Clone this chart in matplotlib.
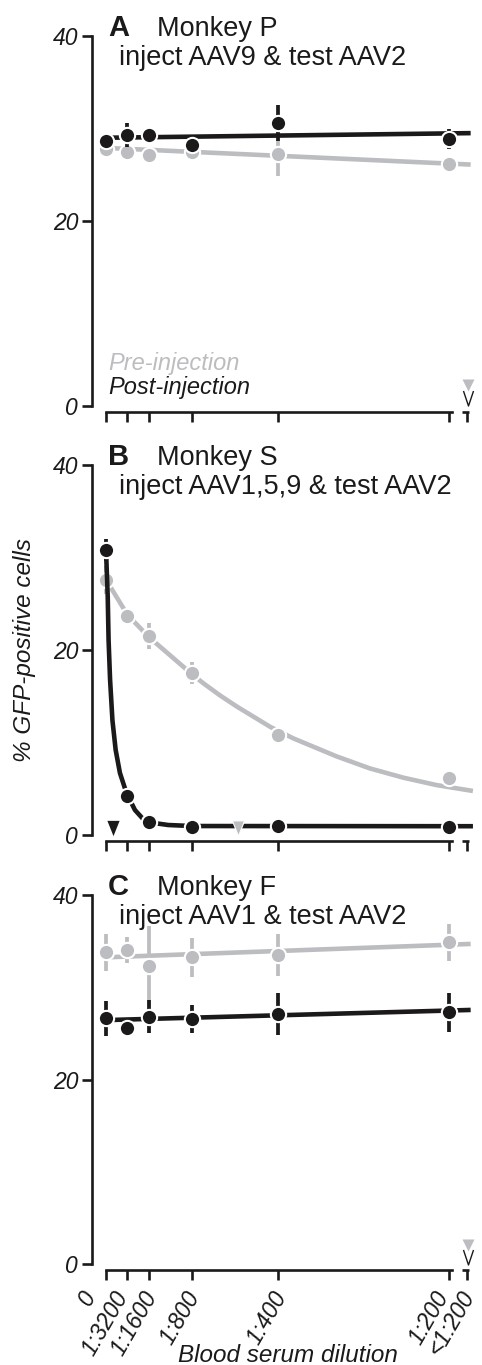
import matplotlib
matplotlib.use('Agg')
import matplotlib.pyplot as plt
from matplotlib.transforms import ScaledTranslation

plt.rcParams['font.family'] = ['Liberation Sans', 'DejaVu Sans']

# ---------------- data ----------------
DIL_X = [0, 1, 2, 4, 8, 16]          # serum concentration in units of 1:3200
TICK_X = [0, 1, 2, 4, 8, 16, 16.85]
TICK_LABELS = ['0', '1:3200', '1:1600', '1:800', '1:400', '1:200', '<1:200']
Y_TICKS = [0, 20, 40]

# Panel A - Monkey P
A_pre = [27.8, 27.5, 27.1, 27.5, 27.2, 26.2]
A_pre_err = [0.6, 0.5, 0.4, 0.5, 2.3, 0.5]
A_post = [28.7, 29.3, 29.25, 28.2, 30.6, 28.9]
A_post_err = [0.5, 1.3, 0.5, 1.0, 1.9, 1.1]
A_fit_x = [0, 17]
A_pre_fit = [27.9, 26.1]
A_post_fit = [29.0, 29.5]

# Panel B - Monkey S
B_pre = [27.6, 23.7, 21.5, 17.55, 10.8, 6.2]
B_pre_err = [1.5, 0.6, 1.4, 1.2, 0.3, 0.3]
B_post = [30.8, 4.2, 1.45, 0.85, 1.0, 0.9]
B_post_err = [1.2, 0.4, 0.2, 0.2, 0.2, 0.2]
B_pre_curve_x = [0, 1, 2, 4, 4.54, 5.31, 6.09, 6.87, 7.65, 8.73, 10.75, 12.3, 13.86, 15.4, 17.0]
B_pre_curve_y = [27.6, 23.8, 21.4, 17.4, 16.4, 15.1, 13.9, 12.8, 11.7, 10.45, 8.5, 7.2, 6.2, 5.4, 4.8]
B_post_curve_x = [0, 0.08, 0.12, 0.19, 0.30, 0.45, 0.65, 0.96, 1.35, 1.74, 2.13, 2.9, 4.0, 17.0]
B_post_curve_y = [30.8, 25.8, 21.1, 16.8, 12.4, 9.2, 6.7, 4.5, 2.7, 1.7, 1.33, 1.08, 0.97, 0.95]

# Panel C - Monkey F
C_pre = [33.8, 34.05, 32.3, 33.25, 33.5, 34.9]
C_pre_err = [2.0, 1.45, 4.3, 2.1, 2.25, 2.0]
C_post = [26.65, 25.55, 26.8, 26.55, 27.1, 27.3]
C_post_err = [1.9, 0.0, 1.8, 1.5, 2.25, 2.1]
C_fit_x = [0, 17]
C_pre_fit = [33.25, 34.7]
C_post_fit = [26.45, 27.55]

# Triangle markers
A_tri_pre = (16.87, 2.3)
A_tri_post = (16.87, 0.9)
B_tri_post = (0.34, 0.8)
B_tri_pre = (6.14, 0.8)
C_tri_pre = (16.87, 2.1)
C_tri_post = (16.87, 0.8)

TITLES = [('A', 'Monkey P', 'inject AAV9 & test AAV2'),
          ('B', 'Monkey S', 'inject AAV1,5,9 & test AAV2'),
          ('C', 'Monkey F', 'inject AAV1 & test AAV2')]

# ---------------- style ----------------
W, H, DPI = 482, 1365, 100
GRAY = '#bcbdc0'
BLACK = '#1b191a'
X0PX, PXU = 106.0, 21.45
XMIN, XMAX = -0.65, 17.2
PANEL_BOTTOM_PX = [406, 835, 1264.3]
PANEL_HEIGHT_PX = [370, 370, 369.3]
LABEL_NUDGE_PX = [-5, 5, 13, 13, 14, 4, 12]
MS, MEW = 11.0, 1.5
FIT_LW, ERR_LW = 3.3, 2.7
SPINE_LW = 1.9
TEXT_FS = 19.5
TICK_FS = 16.5
CHEVRON = [(-0.67, 1), (0, -1), (0.67, 1)]
TRI = [(-0.8, 1), (0.8, 1), (0, -1), (-0.8, 1)]

fig = plt.figure(figsize=(W / DPI, H / DPI), dpi=DPI)

def make_axes(i):
    left_px = X0PX + XMIN * PXU
    width_px = (XMAX - XMIN) * PXU
    b = PANEL_BOTTOM_PX[i]
    h = PANEL_HEIGHT_PX[i]
    ax = fig.add_axes([left_px / W, (H - b) / H, width_px / W, h / H])
    ax.set_xlim(XMIN, XMAX)
    ax.set_ylim(0, 40)
    for s in ['top', 'right']:
        ax.spines[s].set_visible(False)
    ax.spines['left'].set_bounds(0, 40)
    ax.spines['left'].set_linewidth(SPINE_LW)
    ax.spines['left'].set_color(BLACK)
    ax.spines['bottom'].set_position(('outward', 6 * 72 / DPI))
    ax.spines['bottom'].set_bounds(0, 16.13)
    ax.spines['bottom'].set_linewidth(SPINE_LW)
    ax.spines['bottom'].set_color(BLACK)
    ax.set_yticks(Y_TICKS)
    ax.set_yticklabels([str(v) for v in Y_TICKS], style='italic', fontsize=TICK_FS)
    ax.set_xticks(TICK_X)
    ax.tick_params(axis='both', direction='out', length=7, width=SPINE_LW,
                   color=BLACK, labelcolor=BLACK)
    ax.tick_params(axis='y', pad=3.0)
    # short stub of the broken x axis
    yax = -6.0 / h
    ax.plot([16.62, 16.9], [yax, yax], color=BLACK, lw=SPINE_LW,
            transform=ax.get_xaxis_transform(), clip_on=False,
            solid_capstyle='butt')
    ax.patch.set_visible(False)
    return ax

def draw_series(ax, y, err, color, z):
    ax.errorbar(DIL_X, y, yerr=err, fmt='none', ecolor=color,
                elinewidth=ERR_LW, capsize=0, zorder=z + 1, clip_on=False)
    ax.plot(DIL_X, y, 'o', ms=MS, mfc=color, mec='white', mew=MEW,
            zorder=z + 2, clip_on=False)

def titles(ax, i):
    letter, monkey, inject = TITLES[i]
    ax.text(0.1, 40, letter, fontsize=21, fontweight='bold', color=BLACK,
            va='baseline', ha='left')
    ax.text(2.4, 40, monkey, fontsize=TEXT_FS, color=BLACK, va='baseline', ha='left')
    ax.text(0.62, 36.9, inject, fontsize=TEXT_FS, color=BLACK, va='baseline', ha='left')

# Panel A
axA = make_axes(0)
axA.set_xticklabels([])
axA.plot(A_fit_x, A_pre_fit, color=GRAY, lw=FIT_LW, zorder=2, solid_capstyle='butt')
draw_series(axA, A_pre, A_pre_err, GRAY, 2)
axA.plot(A_fit_x, A_post_fit, color=BLACK, lw=FIT_LW, zorder=5, solid_capstyle='butt')
draw_series(axA, A_post, A_post_err, BLACK, 5)
axA.plot(*A_tri_pre, 'v', ms=8, mfc=GRAY, mec='none', clip_on=False, zorder=8)
axA.plot(*A_tri_post, marker=CHEVRON, ms=10.8, mfc='none', mec=BLACK, mew=1.0,
         clip_on=False, zorder=8)
axA.text(0.09, 3.9, 'Pre-injection', color=GRAY, style='italic', fontsize=17,
         va='baseline')
axA.text(0.09, 1.26, 'Post-injection', color=BLACK, style='italic', fontsize=17,
         va='baseline')
titles(axA, 0)

# Panel B
axB = make_axes(1)
axB.set_xticklabels([])
axB.plot(B_pre_curve_x, B_pre_curve_y, color=GRAY, lw=FIT_LW, zorder=2,
         solid_joinstyle='round')
draw_series(axB, B_pre, B_pre_err, GRAY, 2)
axB.plot(B_post_curve_x, B_post_curve_y, color=BLACK, lw=FIT_LW, zorder=5,
         solid_joinstyle='round')
draw_series(axB, B_post, B_post_err, BLACK, 5)
axB.plot(*B_tri_post, marker=TRI, ms=11, mfc=BLACK, mec='none', clip_on=False, zorder=9)
axB.plot(*B_tri_pre, marker=TRI, ms=11, mfc=GRAY, mec='white', mew=0.8,
         clip_on=False, zorder=9)
titles(axB, 1)

# Panel C
axC = make_axes(2)
axC.set_xticklabels(TICK_LABELS, style='italic', fontsize=TICK_FS)
axC.tick_params(axis='x', pad=5.0)
for lab, nd in zip(axC.get_xticklabels(), LABEL_NUDGE_PX):
    lab.set_rotation(60)
    lab.set_ha('right')
    lab.set_va('top')
    lab.set_transform(lab.get_transform() +
                      ScaledTranslation(nd / DPI, 0, fig.dpi_scale_trans))
axC.plot(C_fit_x, C_pre_fit, color=GRAY, lw=FIT_LW, zorder=2, solid_capstyle='butt')
draw_series(axC, C_pre, C_pre_err, GRAY, 2)
axC.plot(C_fit_x, C_post_fit, color=BLACK, lw=FIT_LW, zorder=5, solid_capstyle='butt')
draw_series(axC, C_post, C_post_err, BLACK, 5)
axC.plot(*C_tri_pre, 'v', ms=8, mfc=GRAY, mec='none', clip_on=False, zorder=8)
axC.plot(*C_tri_post, marker=CHEVRON, ms=10.8, mfc='none', mec=BLACK, mew=1.0,
         clip_on=False, zorder=8)
titles(axC, 2)

fig.text(25 / W, 1 - 650 / H, '% GFP-positive cells', rotation=90, style='italic',
         fontsize=17.5, ha='center', va='center', color=BLACK)
fig.text(288 / W, 1 - 1361.5 / H, 'Blood serum dilution', style='italic',
         fontsize=17.5, ha='center', va='baseline', color=BLACK)

fig.savefig('out.png', dpi=DPI)
